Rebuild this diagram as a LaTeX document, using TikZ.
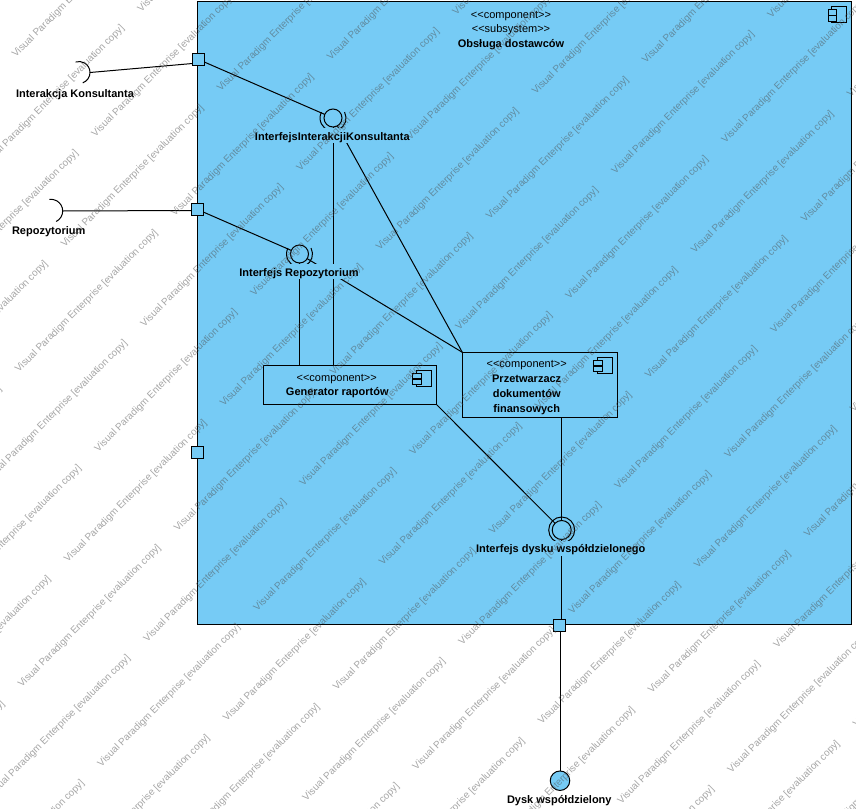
\documentclass[tikz,border=0pt]{standalone}
\usepackage{fontspec}
\setmainfont{Liberation Sans}
\definecolor{vpblue}{RGB}{118,203,245}
\pgfdeclarelayer{boxlayer}
\pgfdeclarelayer{linelayer}
\pgfsetlayers{boxlayer,linelayer,main}
\tikzset{
  compbox/.style={draw, line width=1pt, fill=vpblue, inner sep=0pt, outer sep=0pt},
  portbox/.style={compbox, minimum size=12},
  ball/.style={draw, line width=1pt, fill=vpblue, circle, inner sep=0pt, outer sep=0pt, minimum size=18},
  namelabel/.style={font=\fontsize{11}{15}\selectfont\bfseries, inner xsep=0pt, inner ysep=0pt, minimum height=15, text height=9, text depth=0},
  filllabel/.style={namelabel, fill=vpblue},
  stereolabel/.style={font=\fontsize{11}{15}\selectfont, inner sep=0pt, minimum height=15, text height=9, text depth=0},
  stamp/.style={font=\fontsize{9.9}{11}\selectfont, text=black!70, text opacity=0.5, rotate=45, anchor=west, inner sep=0pt},
  pics/compicon/.style={code={
    \draw[line width=1pt, fill=vpblue] (-15,0) rectangle (0,16);
    \draw[line width=1pt, fill=vpblue] (-18.5,3) rectangle (-10,8.5);
    \draw[line width=1pt, fill=vpblue] (-18.5,9) rectangle (-10,14.5);
  }},
}
\begin{document}
\begin{tikzpicture}[x=1pt, y=-1pt]
\useasboundingbox (0,0) rectangle (856,808);
% outer component
\begin{pgfonlayer}{boxlayer}
  \node[compbox, minimum width=654.5, minimum height=622] (obsluga) at (524.5,313) {};
\end{pgfonlayer}
\pic at ([shift={(-5,5)}]obsluga.north east) {compicon};
\node[stereolabel] (obsA) at (511,14) {{<}{<}component{>}{>}};
\node[stereolabel] (obsB) at (511,28.5) {{<}{<}subsystem{>}{>}};
\node[namelabel] (obsC) at (511,43) {Obsługa dostawców};
% ports
\node[portbox] (portK) at (198.5,59.5) {};
\node[portbox] (portR) at (197.5,209.5) {};
\node[portbox] (portX) at (197.5,452.5) {};
\node[portbox] (portD) at (559.5,625.5) {};
% inner components
\node[compbox, minimum width=173, minimum height=39] (genrap) at (349.8,384.8) {};
\pic at ([shift={(-5,5)}]genrap.north east) {compicon};
\node[stereolabel] (genA) at (336.7,376.7) {{<}{<}component{>}{>}};
\node[namelabel] (genB) at (337.3,391.3) {Generator raportów};
\node[compbox, minimum width=155, minimum height=65] (przetw) at (539.8,384.8) {};
\pic at ([shift={(-5,5)}]przetw.north east) {compicon};
\node[stereolabel] (przA) at (526.7,363.3) {{<}{<}component{>}{>}};
\node[namelabel] (przB) at (526.7,378.3) {Przetwarzacz};
\node[namelabel] (przC) at (526.7,393.3) {dokumentów};
\node[namelabel] (przD) at (526.7,408.3) {finansowych};
% interfaces
\node[ball] (ifK) at (333,118) {};
\draw[line width=1pt] ([shift={(-27:13)}]ifK.center) arc (-27:207:13);
\node[filllabel] (ifKlab) at (332.3,135.5) {InterfejsInterakcjiKonsultanta};
\node[ball] (ifR) at (299.5,254) {};
\draw[line width=1pt] ([shift={(-27:13)}]ifR.center) arc (-27:207:13);
\node[filllabel] (ifRlab) at (299,271.5) {Interfejs Repozytorium};
\node[ball, minimum size=19] (ifD) at (561.7,530) {};
\draw[line width=1pt] (ifD.center) circle (13);
\node[filllabel] (ifDlab) at (560.7,548.3) {Interfejs dysku współdzielonego};
% outer sockets and disk
\coordinate (sockK) at (90,72.5);
\draw[line width=1pt] (sockK) arc (0:70:11);
\draw[line width=1pt] (sockK) arc (0:-108:11);
\node[namelabel] (sockKlab) at (75,93) {Interakcja Konsultanta};
\coordinate (sockR) at (62.7,211);
\draw[line width=1pt] (sockR) arc (0:64:11.7);
\draw[line width=1pt] (sockR) arc (0:-98:11.7);
\node[namelabel] (sockRlab) at (48.7,230) {Repozytorium};
\node[ball, minimum size=19.5] (dysk) at (560,780.7) {};
\node[namelabel] (dyskLab) at (559.3,799.3) {Dysk współdzielony};
% connectors
\begin{pgfonlayer}{linelayer}
  \draw[line width=1pt] (sockK) -- ([yshift=-4]portK.west);
  \draw[line width=1pt] (sockR) -- ([yshift=-1]portR.west);
  \draw[line width=1pt] (portK.center) -- (ifK.center);
  \draw[line width=1pt] (portR.center) -- (ifR.center);
  \draw[line width=1pt] (ifK.center) -- (ifK.center |- genrap.north);
  \draw[line width=1pt] (ifR.center) -- (ifR.center |- genrap.north);
  \draw[line width=1pt] (ifK.center) -- (przetw.north west);
  \draw[line width=1pt] (ifR.center) -- (przetw.north west);
  \draw[line width=1pt] (genrap.south east) -- (ifD.center);
  \draw[line width=1pt] (ifD.center |- przetw.south) -- (ifD.center);
  \draw[line width=1pt] (ifD.center) -- (ifD.center |- portD.north);
  \draw[line width=1pt] (dysk.center) -- (dysk.center |- portD.south);
\end{pgfonlayer}
% evaluation stamps
\begin{scope}
  \clip (0,0) rectangle (856,808);
  \foreach \r in {-16,...,16} {
    \foreach \j in {-8,...,8} {
      \pgfmathsetmacro{\odd}{mod(abs(\r),2)}
      \pgfmathsetmacro{\sx}{66+39.75*\r+156*\j+\odd*70.25}
      \pgfmathsetmacro{\sy}{561+39.75*\r-156*\j-\odd*70.75}
      \pgfmathtruncatemacro{\keep}{and(and(\sx>-150,\sx<860),and(\sy>-5,\sy<960))}
      \ifnum\keep=1
        \node[stamp] (stamp\r n\j) at (\sx,\sy) {Visual Paradigm Enterprise [evaluation copy]};
      \fi
    }
  }
\end{scope}
\end{tikzpicture}
\end{document}
